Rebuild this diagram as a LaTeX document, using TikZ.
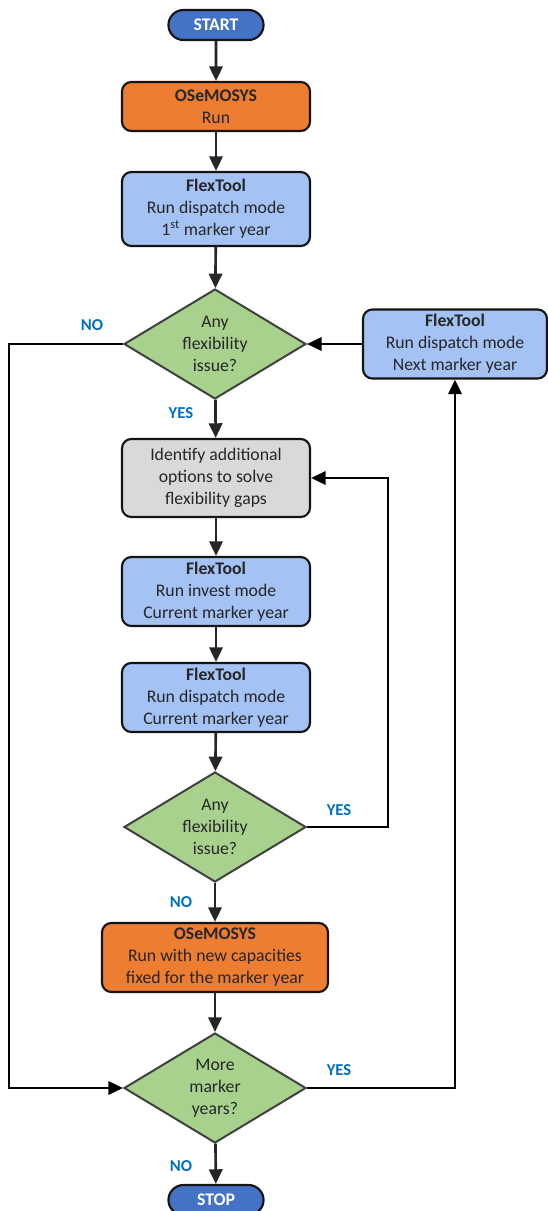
\documentclass[tikz,border=0pt]{standalone}
\usepackage{fontspec}
\setmainfont{Carlito}
\usetikzlibrary{arrows.meta,shapes.geometric,shapes.misc,positioning}
\definecolor{fcblue}{RGB}{68,114,196}
\definecolor{fcorange}{RGB}{237,125,49}
\definecolor{fclight}{RGB}{164,194,244}
\definecolor{fcgreen}{RGB}{169,209,142}
\definecolor{fcgrey}{RGB}{217,217,217}
\definecolor{fcborder}{RGB}{20,20,20}
\definecolor{fcdiag}{RGB}{64,64,64}
\definecolor{fctext}{RGB}{38,38,38}
\definecolor{fclabel}{RGB}{0,112,192}
\tikzstyle{arrow} = [line width=2pt,-{Triangle[length=11pt,width=10pt]},color=fctext]
\tikzstyle{looparrow} = [line width=2pt,-{Triangle[length=11pt,width=10pt]},color=black]
\tikzstyle{terminal} = [rounded rectangle, minimum width=78pt, minimum height=22.5pt, draw=fcborder, line width=1.6pt, fill=fcblue, text=white, font=\bfseries\fontsize{13.3}{16.5}\selectfont]
\tikzstyle{process} = [rectangle, rounded corners=7pt, minimum width=141pt, draw=fcborder, line width=1.6pt, text=fctext, align=center, inner sep=1pt, font=\fontsize{13.3}{16.5}\selectfont]
\tikzstyle{decision} = [diamond, aspect=1.65, minimum width=136.5pt, minimum height=82.5pt, draw=fcdiag, line width=1.5pt, fill=fcgreen, text=fctext, inner sep=0pt, align=center, font=\fontsize{13.3}{16.5}\selectfont]
\tikzstyle{answer} = [text=fclabel, font=\bfseries\fontsize{12.5}{15}\selectfont]

\begin{document}
\begin{tikzpicture}[x=0.75pt,y=-0.75pt]
\useasboundingbox (0,0) rectangle (547,1211);

% Start and first runs
\node[terminal] (start) at (216,25) {START};
\node[process, fill=fcorange, minimum height=36.75pt] (osemo) at (216,106.5) {\textbf{OSeMOSYS}\\Run};
\node[process, fill=fclight, minimum height=55.5pt] (flexfirst) at (216,209) {\textbf{FlexTool}\\Run dispatch mode\\1\textsuperscript{st} marker year};

% First check
\node[decision] (checkone) at (215,344) {Any\\flexibility\\issue?};
\node[process, fill=fclight, minimum width=138pt, minimum height=51.75pt] (flexnext) at (455,344) {\textbf{FlexTool}\\Run dispatch mode\\Next marker year};

% Investment loop
\node[process, fill=fcgrey, minimum height=58.5pt] (ident) at (216,478) {Identify additional\\options to solve\\flexibility gaps};
\node[process, fill=fclight, minimum height=51.75pt] (invest) at (216,591.5) {\textbf{FlexTool}\\Run invest mode\\Current marker year};
\node[process, fill=fclight, minimum height=51.75pt] (dispatch) at (216,697.5) {\textbf{FlexTool}\\Run dispatch mode\\Current marker year};
\node[decision] (checktwo) at (215,827) {Any\\flexibility\\issue?};

% Final runs
\node[process, fill=fcorange, minimum width=169.5pt, minimum height=51.75pt] (osemonew) at (215,957.5) {\textbf{OSeMOSYS}\\Run with new capacities\\fixed for the marker year};
\node[decision] (more) at (215,1088) {More\\marker\\years?};
\node[terminal] (stop) at (216,1200) {STOP};

% Main spine
\draw[arrow] (start) -- (osemo);
\draw[arrow] (osemo) -- (flexfirst);
\draw[arrow] (flexfirst) -- (checkone);
\draw[arrow] (checkone) -- (ident);
\draw[arrow] (ident) -- (invest);
\draw[arrow] (invest) -- (dispatch);
\draw[arrow] (dispatch) -- (checktwo);
\draw[arrow] (checktwo) -- (osemonew);
\draw[arrow] (osemonew) -- (more);
\draw[arrow] (more) -- (stop);

% Loops
\draw[looparrow] (flexnext) -- (checkone.east);
\draw[looparrow] (checkone.west) -- ++(-114,0) |- (more.west);
\draw[looparrow] (checktwo.east) -- ++(81,0) |- (ident.east);
\draw[looparrow] (more.east) -| (flexnext.south);

% Answers
\node[answer] (noone) at (92,325) {NO};
\node[answer] (yesone) at (181,413) {YES};
\node[answer] (yestwo) at (339,810) {YES};
\node[answer] (notwo) at (181,902) {NO};
\node[answer] (yesthree) at (339,1070) {YES};
\node[answer] (nothree) at (181,1166) {NO};
\end{tikzpicture}
\end{document}
